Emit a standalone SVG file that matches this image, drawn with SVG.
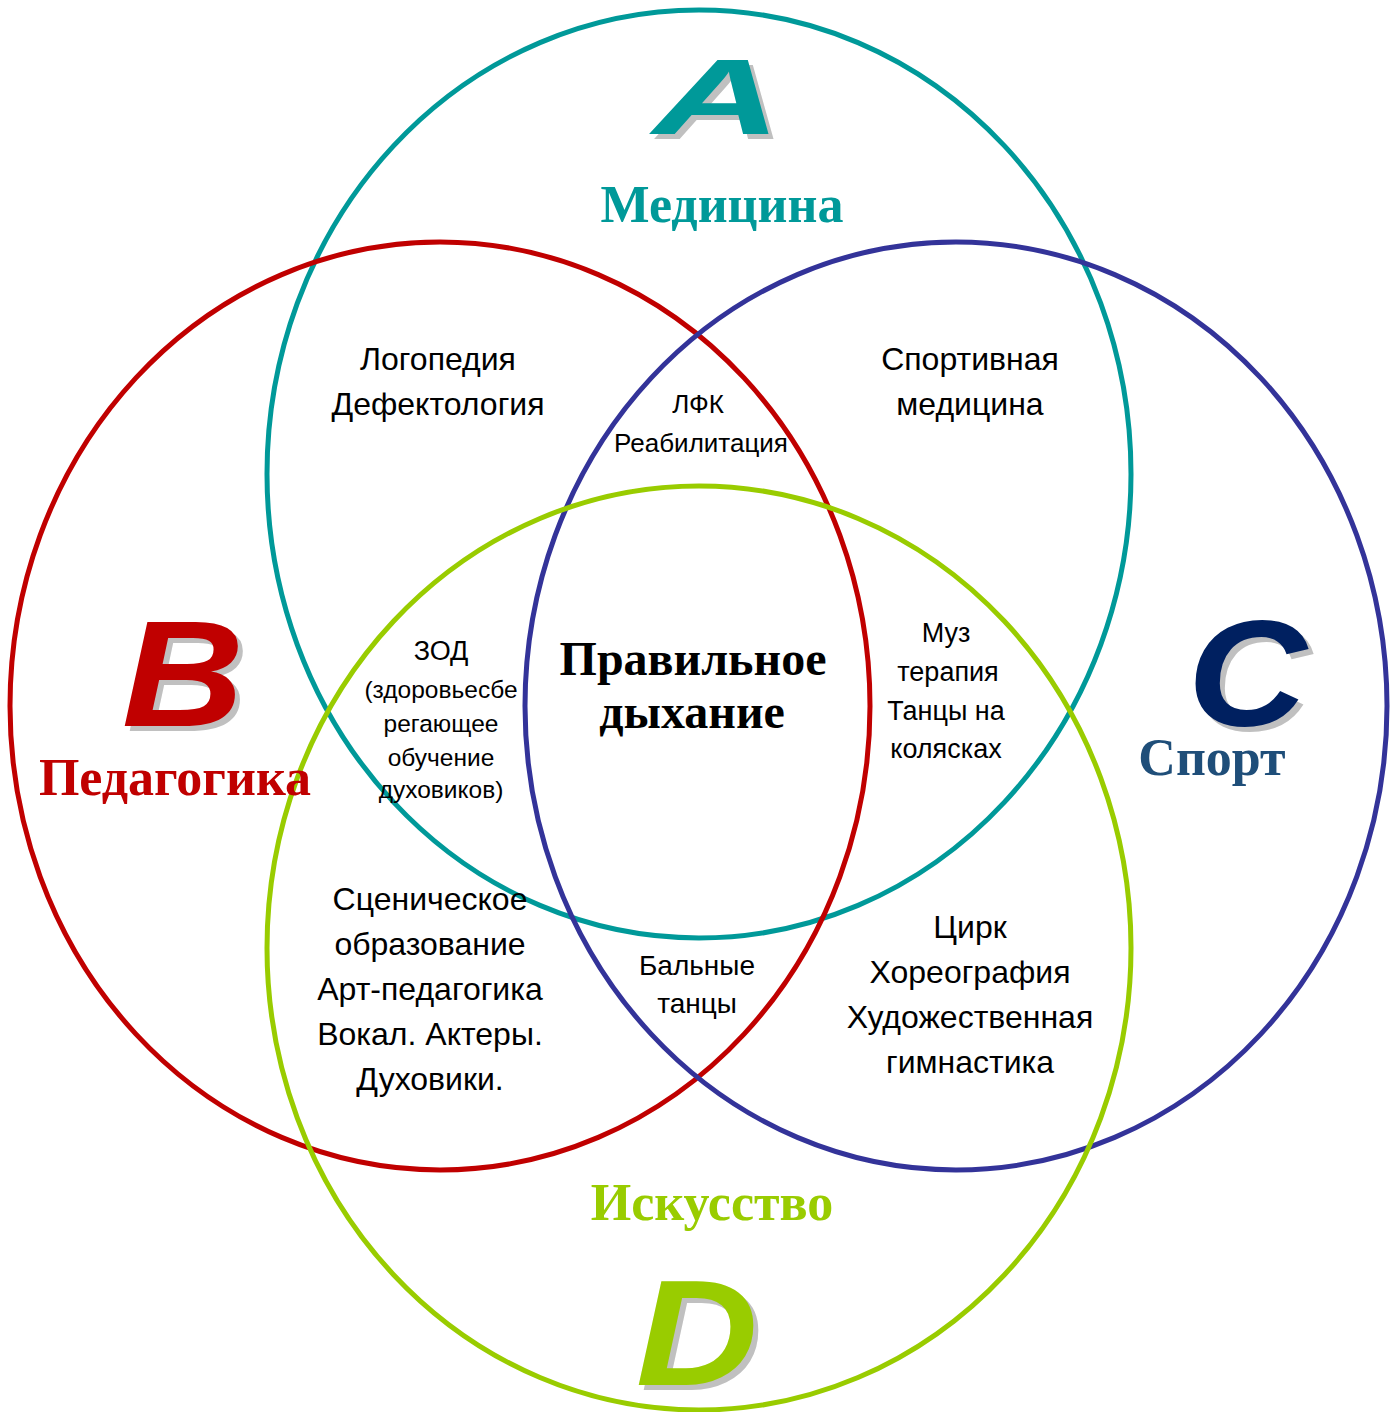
<svg xmlns="http://www.w3.org/2000/svg" width="1395" height="1412" viewBox="0 0 1395 1412">
<style>
.c{fill:none;stroke-width:5}
.t{font-family:"Liberation Sans",Arial,sans-serif;fill:#000;text-anchor:middle}
.h{font-family:"Liberation Serif","Times New Roman",serif;font-weight:bold;text-anchor:middle}
.L{font-family:"Liberation Sans",Arial,sans-serif;font-weight:bold;font-style:italic;text-anchor:middle}
.sh{fill:#c0c0c0}
</style>
<rect width="1395" height="1412" fill="#fff"/>
<g id="circles">
<ellipse id="medicine" class="c" cx="699" cy="474" rx="432" ry="464" stroke="#009999"/>
<ellipse id="pedagogy" class="c" cx="440" cy="706" rx="430" ry="464" stroke="#c00000"/>
<ellipse id="sport" class="c" cx="956" cy="706" rx="431" ry="464" stroke="#333399"/>
<ellipse id="art" class="c" cx="699" cy="948" rx="432" ry="462" stroke="#99cc00"/>
</g>
<g id="letters">
<g transform="translate(722,139) scale(1.65,1)"><text class="L sh" x="0" y="0" font-size="108">A</text></g>
<g transform="translate(717,134) scale(1.65,1)"><text class="L" x="0" y="0" font-size="108" fill="#009999">A</text></g>
<g transform="translate(188,731) scale(1.13,1)"><text class="L sh" x="0" y="0" font-size="150">B</text></g>
<g transform="translate(183,726) scale(1.13,1)"><text class="L" x="0" y="0" font-size="150" fill="#c00000">B</text></g>
<g transform="translate(1252,731) scale(1.1,1)"><text class="L sh" x="0" y="0" font-size="150">C</text></g>
<g transform="translate(1247,726) scale(1.1,1)"><text class="L" x="0" y="0" font-size="150" fill="#002060">C</text></g>
<g transform="translate(702,1390) scale(1.13,1)"><text class="L sh" x="0" y="0" font-size="150">D</text></g>
<g transform="translate(697,1385) scale(1.13,1)"><text class="L" x="0" y="0" font-size="150" fill="#99cc00">D</text></g>
</g>
<g id="titles">
<text class="h" x="722" y="222" font-size="52" fill="#009999">Медицина</text>
<text class="h" x="175" y="795" font-size="52" fill="#c00000">Педагогика</text>
<text class="h" x="1212" y="775" font-size="52" fill="#1f4e79">Спорт</text>
<text class="h" x="712" y="1220" font-size="52" fill="#99cc00">Искусство</text>
</g>
<g id="center">
<text class="h" x="693" y="675" font-size="48" fill="#000">Правильное</text>
<text class="h" x="692" y="728" font-size="48" fill="#000">дыхание</text>
</g>
<g id="n-logo" class="t" font-size="32">
<text x="438" y="370">Логопедия</text>
<text x="438" y="415">Дефектология</text>
</g>
<g id="n-sportmed" class="t" font-size="32">
<text x="970" y="370">Спортивная</text>
<text x="970" y="415">медицина</text>
</g>
<g id="n-lfk" class="t" font-size="26">
<text x="698" y="413">ЛФК</text>
<text x="701" y="452">Реабилитация</text>
</g>
<g id="n-zod" class="t" font-size="24.5">
<text x="441" y="660" font-size="27">ЗОД</text>
<text x="441" y="698">(здоровьесбе</text>
<text x="441" y="732">регающее</text>
<text x="441" y="766">обучение</text>
<text x="441" y="798">духовиков)</text>
</g>
<g id="n-muz" class="t" font-size="27">
<text x="946" y="642">Муз</text>
<text x="948" y="681">терапия</text>
<text x="946" y="720">Танцы на</text>
<text x="946" y="758">колясках</text>
</g>
<g id="n-scene" class="t" font-size="32">
<text x="430" y="910">Сценическое</text>
<text x="430" y="955">образование</text>
<text x="430" y="1000">Арт-педагогика</text>
<text x="430" y="1045">Вокал. Актеры.</text>
<text x="430" y="1090">Духовики.</text>
</g>
<g id="n-ball" class="t" font-size="28">
<text x="697" y="975">Бальные</text>
<text x="697" y="1013">танцы</text>
</g>
<g id="n-circus" class="t" font-size="32">
<text x="970" y="938">Цирк</text>
<text x="970" y="983">Хореография</text>
<text x="970" y="1028">Художественная</text>
<text x="970" y="1073">гимнастика</text>
</g>
</svg>
